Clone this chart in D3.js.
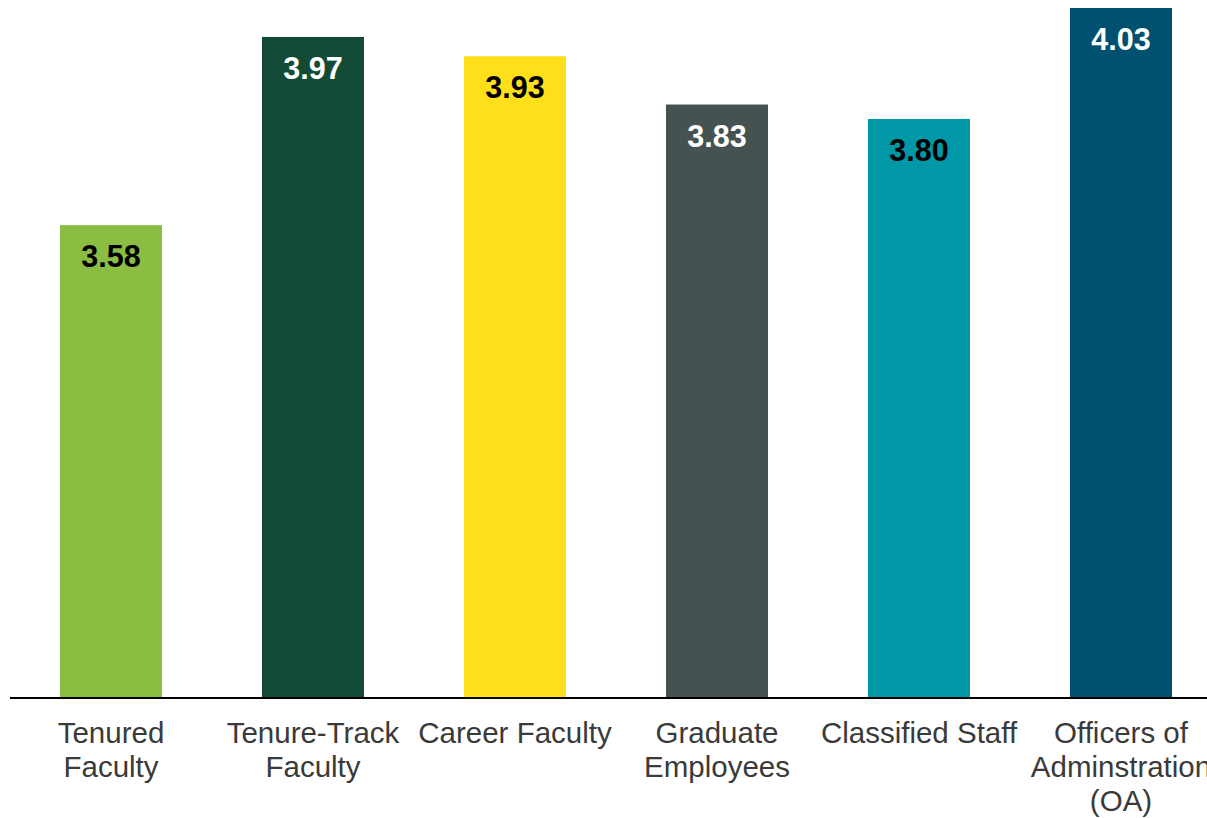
<!DOCTYPE html>
<html>
<head>
<meta charset="utf-8">
<script src="https://cdn.jsdelivr.net/npm/d3@7"></script>
<style>
  html, body { margin: 0; padding: 0; background: #fff; overflow: hidden; }
  svg { display: block; }
</style>
</head>
<body>
<svg id="chart" width="1207" height="818"></svg>
<script>
const categories = [
  ["Tenured", "Faculty"],
  ["Tenure-Track", "Faculty"],
  ["Career Faculty"],
  ["Graduate", "Employees"],
  ["Classified Staff"],
  ["Officers of", "Adminstration", "(OA)"]
];
const values = [3.58, 3.97, 3.93, 3.83, 3.80, 4.03];
const barColors = ["#8CBD43", "#134A35", "#FEDF1A", "#465252", "#0098A6", "#00506F"];
const labelColors = ["#000000", "#FFFFFF", "#000000", "#FFFFFF", "#000000", "#FFFFFF"];

const svg = d3.select("#chart");
const W = 1207;
const baseline = 698;

const keys = categories.map(c => c.join(" "));
const x = d3.scaleBand()
  .domain(keys)
  .range([10, 1222])
  .paddingInner(0.495)
  .paddingOuter(0.2475);

const y = d3.scaleLinear()
  .domain([2.6, 4.03])
  .range([baseline, 8]);

const data = keys.map((k, i) => ({ key: k, lines: categories[i], value: values[i], color: barColors[i], lc: labelColors[i] }));

svg.selectAll("rect.bar")
  .data(data)
  .enter().append("rect")
  .attr("class", "bar")
  .attr("x", d => x(d.key))
  .attr("width", x.bandwidth())
  .attr("y", d => y(d.value))
  .attr("height", d => baseline - y(d.value))
  .attr("fill", d => d.color);

svg.selectAll("text.val")
  .data(data)
  .enter().append("text")
  .attr("class", "val")
  .attr("x", d => x(d.key) + x.bandwidth() / 2)
  .attr("y", d => y(d.value) + 42)
  .attr("text-anchor", "middle")
  .attr("font-family", "Liberation Sans, Arial, sans-serif")
  .attr("font-weight", "bold")
  .attr("font-size", "30.5px")
  .attr("fill", d => d.lc)
  .text(d => d.value.toFixed(2));

// axis line
svg.append("line")
  .attr("x1", 10).attr("x2", W)
  .attr("y1", baseline).attr("y2", baseline)
  .attr("stroke", "#000").attr("stroke-width", 2);

const cat = svg.selectAll("text.cat")
  .data(data)
  .enter().append("text")
  .attr("class", "cat")
  .attr("text-anchor", "middle")
  .attr("font-family", "Liberation Sans, Arial, sans-serif")
  .attr("font-size", "29.5px")
  .attr("fill", "#3A3A3A");

cat.selectAll("tspan")
  .data(d => d.lines.map(l => ({ l, cx: x(d.key) + x.bandwidth() / 2 })))
  .enter().append("tspan")
  .attr("x", d => d.cx)
  .attr("y", (d, i) => baseline + 45 + i * 34)
  .text(d => d.l);
</script>
</body>
</html>
